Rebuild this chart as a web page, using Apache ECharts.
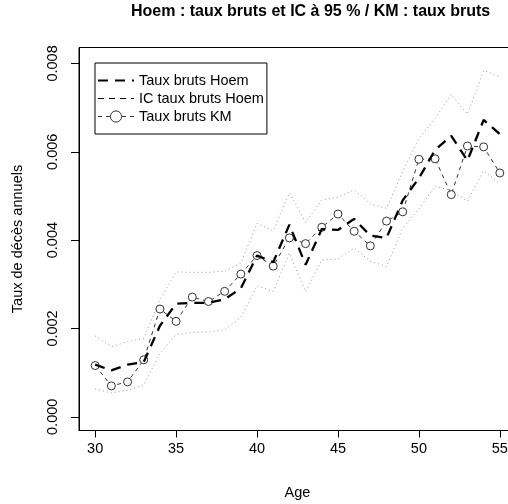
<!DOCTYPE html>
<html>
<head>
<meta charset="utf-8">
<script src="https://cdn.jsdelivr.net/npm/echarts@6.0.0/dist/echarts.min.js"></script>
<style>
  html, body { margin: 0; padding: 0; background: #fff; }
  #chart { width: 508px; height: 504px; }
</style>
</head>
<body>
<div id="chart"></div>
<script>
// ages (x axis)
const ages = [30, 31, 32, 33, 34, 35, 36, 37, 38, 39, 40, 41, 42, 43, 44, 45, 46, 47, 48, 49, 50, 51, 52, 53, 54, 55];
// taux bruts Hoem
const hoem = [0.00118, 0.00105, 0.00118, 0.00124, 0.00206, 0.00256, 0.00258, 0.00258, 0.00266, 0.00291,
  0.00365, 0.00350, 0.00435, 0.00344, 0.00425, 0.00423, 0.00448, 0.00410, 0.00405, 0.00490,
  0.00540, 0.00604, 0.00636, 0.00580, 0.00672, 0.00640];
// bornes IC 95 %
const icInf = [0.00063, 0.00054, 0.00060, 0.00072, 0.00144, 0.00186, 0.00191, 0.00192, 0.00197, 0.00225,
  0.00297, 0.00284, 0.00370, 0.00283, 0.00355, 0.00357, 0.00382, 0.00352, 0.00340, 0.00427,
  0.00470, 0.00522, 0.00512, 0.00488, 0.00557, 0.00527];
const icSup = [0.00183, 0.00159, 0.00170, 0.00178, 0.00265, 0.00328, 0.00327, 0.00327, 0.00330, 0.00348,
  0.00438, 0.00421, 0.00507, 0.00440, 0.00491, 0.00497, 0.00514, 0.00482, 0.00472, 0.00555,
  0.00630, 0.00675, 0.00730, 0.00685, 0.00784, 0.00770];
// taux bruts KM
const km = [0.00116, 0.00070, 0.00079, 0.00129, 0.00244, 0.00216, 0.00271, 0.00261, 0.00284, 0.00323,
  0.00365, 0.00341, 0.00405, 0.00392, 0.00429, 0.00459, 0.00420, 0.00387, 0.00443, 0.00464,
  0.00583, 0.00584, 0.00503, 0.00613, 0.00611, 0.00552];
// tick labels
const xTicks = [30, 35, 40, 45, 50, 55];
const yTicks = [0, 0.002, 0.004, 0.006, 0.008];

const font = "'Liberation Sans', Arial, sans-serif";
const pairs = (arr) => ages.map((a, i) => [a, arr[i]]);
// no marker in the legend sample for plain lines
const noMarker = { color: "rgba(0,0,0,0)", borderWidth: 0 };

const chart = echarts.init(document.getElementById("chart"));

const option = {
  animation: false,
  backgroundColor: "#fff",
  title: {
    text: "Hoem : taux bruts et IC à 95 % / KM : taux bruts",
    left: 131,
    top: 4,
    padding: 0,
    textStyle: { fontFamily: font, fontSize: 16, fontWeight: "bold", color: "#000" }
  },
  legend: {
    data: [
      { name: "Taux bruts Hoem", itemStyle: noMarker },
      { name: "IC taux bruts Hoem", itemStyle: noMarker, lineStyle: { width: 1, type: [6, 5] } },
      { name: "Taux bruts KM", itemStyle: { borderWidth: 1 }, lineStyle: { width: 1, type: [4, 4] } }
    ],
    orient: "vertical",
    left: 95,
    top: 63,
    padding: [10, 3, 10, 2],
    itemGap: 3,
    itemWidth: 36,
    itemHeight: 14,
    borderColor: "#000",
    borderWidth: 1,
    borderRadius: 0,
    selectedMode: false,
    textStyle: { fontFamily: font, fontSize: 14.5, color: "#000" }
  },
  grid: {
    left: 79,
    top: 47.5,
    right: -8,
    bottom: 73.5,
    show: true,
    borderColor: "#000",
    borderWidth: 1,
    outerBoundsMode: "none"
  },
  xAxis: {
    type: "value",
    min: 29,
    max: 56,
    name: "Age",
    nameLocation: "middle",
    nameGap: 55,
    nameTextStyle: { fontFamily: font, fontSize: 14.5, color: "#000" },
    axisLine: { show: true, onZero: false, lineStyle: { color: "#000", width: 1 } },
    axisTick: { show: true, inside: false, length: 7, customValues: xTicks, lineStyle: { color: "#000" } },
    axisLabel: { customValues: xTicks, margin: 11, fontFamily: font, fontSize: 14.5, color: "#000" },
    splitLine: { show: false }
  },
  yAxis: {
    type: "value",
    min: -0.00031,
    max: 0.00836,
    name: "Taux de décès annuels",
    nameLocation: "middle",
    nameRotate: 90,
    nameGap: 54,
    nameTextStyle: { fontFamily: font, fontSize: 14.5, color: "#000" },
    axisLine: { show: true, onZero: false, lineStyle: { color: "#000", width: 1 } },
    axisTick: { show: true, inside: false, length: 8, customValues: yTicks, lineStyle: { color: "#000" } },
    axisLabel: {
      customValues: yTicks,
      rotate: 90,
      margin: 19,
      fontFamily: font,
      fontSize: 14.5,
      color: "#000",
      formatter: (v) => v.toFixed(3)
    },
    splitLine: { show: false }
  },
  series: [
    {
      name: "Taux bruts Hoem",
      type: "line",
      data: pairs(hoem),
      symbol: "none",
      lineStyle: { color: "#000", width: 2.3, type: [10, 7] },
      itemStyle: { color: "#000" },
      z: 4
    },
    {
      // only used for the legend sample
      name: "IC taux bruts Hoem",
      type: "line",
      data: [],
      symbol: "none",
      lineStyle: { color: "#000", width: 1, type: [6, 5] },
      itemStyle: { color: "#000" }
    },
    {
      name: "IC inf",
      type: "line",
      data: pairs(icInf),
      symbol: "none",
      lineStyle: { color: "#999", width: 1, type: [1, 3] },
      z: 2
    },
    {
      name: "IC sup",
      type: "line",
      data: pairs(icSup),
      symbol: "none",
      lineStyle: { color: "#999", width: 1, type: [1, 3] },
      z: 2
    },
    {
      name: "Taux bruts KM",
      type: "line",
      data: pairs(km),
      symbol: "circle",
      symbolSize: 8,
      showSymbol: true,
      lineStyle: { color: "#333", width: 1, type: [4, 4] },
      itemStyle: { color: "#fff", borderColor: "#333", borderWidth: 1 },
      z: 3
    }
  ]
};

chart.setOption(option);
</script>
</body>
</html>
